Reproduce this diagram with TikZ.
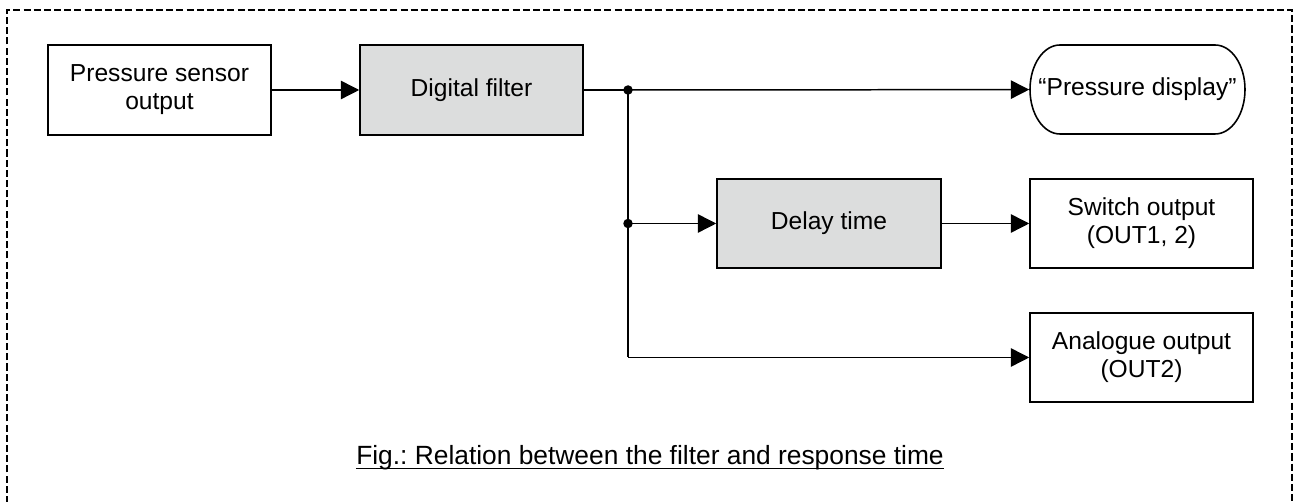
\documentclass[tikz,border=0pt]{standalone}
\usepackage{fontspec}
\setmainfont{Liberation Sans}
\usetikzlibrary{arrows.meta}
\definecolor{boxgray}{HTML}{DCDDDD}
\begin{document}
\frenchspacing
\begin{tikzpicture}[x=0.02cm,y=-0.02cm,
  box/.style={draw=black, line width=0.9pt, minimum width=4.46cm, minimum height=1.79cm, inner sep=0pt, align=center, font=\fontsize{14}{16}\selectfont},
  graybox/.style={box, fill=boxgray},
  conn/.style={line width=0.85pt},
  arr/.style={conn, -{Triangle[length=10.5pt,width=10.5pt]}},
  dot/.style={circle, fill=black, inner sep=0pt, minimum size=5.4pt},
  frame/.style={line width=1.2pt, dash pattern=on 4pt off 1.8pt}]
\useasboundingbox (0,0) rectangle (1295,502);
\draw[frame] (7,503) -- (7,10) -- (1292,10) -- (1292,503);

\node[box] (sens) at (159.5,90) {Pressure sensor\\output};
\node[graybox] (filt) at (471.5,90) {Digital filter};
\node[box, draw=none, minimum width=4.3cm, minimum height=1.78cm] (disp) at (1137.5,89.5) {“Pressure display”};
\draw[line width=0.9pt] (1060,45) -- (1215,45)
  .. controls (1231.6,45) and (1245,64.9) .. (1245,89.5)
  .. controls (1245,114.1) and (1231.6,134) .. (1215,134)
  -- (1060,134)
  .. controls (1043.4,134) and (1030,114.1) .. (1030,89.5)
  .. controls (1030,64.9) and (1043.4,45) .. (1060,45) -- cycle;
\node[graybox, minimum width=4.48cm] (delay) at (829,223.5) {Delay time};
\node[box] (sw) at (1141.5,223.5) {Switch output\\(OUT1, 2)};
\node[box] (ana) at (1141.5,357.5) {Analogue output\\(OUT2)};

\coordinate (j1) at (628,90);
\coordinate (j2) at (628,223.5);
\coordinate (j3) at (628,357.5);

\draw[arr] (sens) -- (filt);
\draw[conn] (filt) -- (j1);
\draw[arr] (j1) -- (disp);
\draw[conn] (j1) -- (j3);
\draw[arr] (j3) -- (ana);
\draw[arr] (j2) -- (delay);
\draw[arr] (delay) -- (sw);
\node[dot] at (j1) {};
\node[dot] at (j2) {};

\node[font=\fontsize{15}{18}\selectfont, inner sep=0pt, anchor=base] (cap) at (650,465) {Fig.: Relation between the filter and response time};
\draw[line width=0.9pt] ([yshift=-2pt]cap.base west) -- ([yshift=-2pt]cap.base east);
\end{tikzpicture}
\end{document}
